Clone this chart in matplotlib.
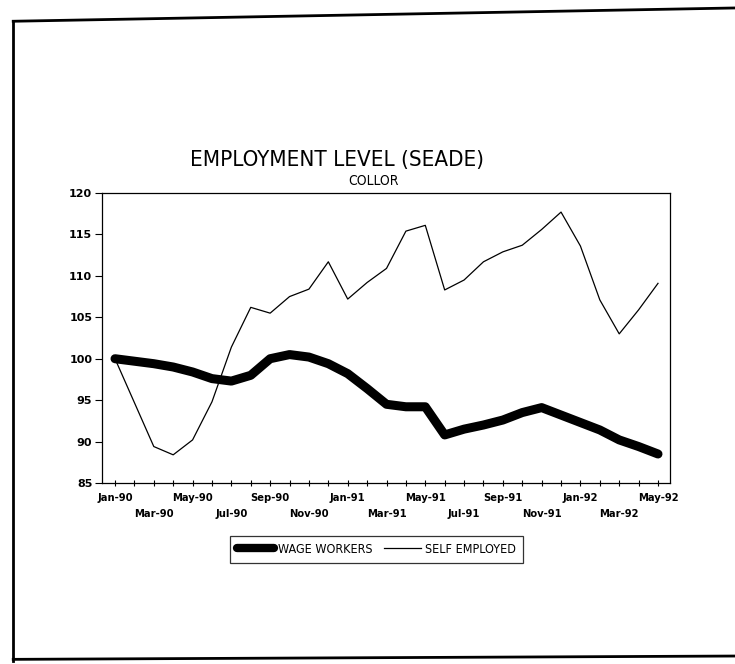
import numpy as np
import matplotlib
matplotlib.use("Agg")
import matplotlib.pyplot as plt
from matplotlib.lines import Line2D

# monthly index, Jan-90 .. May-92
months = ["Jan-90", "Feb-90", "Mar-90", "Apr-90", "May-90", "Jun-90", "Jul-90", "Aug-90",
          "Sep-90", "Oct-90", "Nov-90", "Dec-90", "Jan-91", "Feb-91", "Mar-91", "Apr-91",
          "May-91", "Jun-91", "Jul-91", "Aug-91", "Sep-91", "Oct-91", "Nov-91", "Dec-91",
          "Jan-92", "Feb-92", "Mar-92", "Apr-92", "May-92"]

wage_workers = [100.0, 99.7, 99.4, 99.0, 98.4, 97.6, 97.3, 98.0, 100.0, 100.5, 100.2, 99.4,
                98.2, 96.4, 94.5, 94.2, 94.2, 90.8, 91.5, 92.0, 92.6, 93.5, 94.1, 93.2,
                92.3, 91.4, 90.2, 89.4, 88.5]
self_employed = [100.0, 94.7, 89.4, 88.4, 90.2, 94.8, 101.4, 106.2, 105.5, 107.5, 108.4, 111.7,
                 107.2, 109.2, 110.9, 115.4, 116.1, 108.3, 109.5, 111.7, 112.9, 113.7, 115.6, 117.7,
                 113.6, 107.1, 103.0, 105.9, 109.1]

yticks = [85, 90, 95, 100, 105, 110, 115, 120]

x = np.arange(len(months))

fig = plt.figure(figsize=(7.35, 6.64), dpi=100)
ax = fig.add_axes([0.1388, 0.2726, 0.7728, 0.4367])

ax.plot(x, wage_workers, color="black", lw=6.5, solid_capstyle="round", solid_joinstyle="round")
ax.plot(x, self_employed, color="black", lw=0.9)

ax.set_xlim(-0.67, 28.62)
ax.set_ylim(85, 120)
ax.set_yticks(yticks)
ax.set_yticklabels([str(v) for v in yticks], fontsize=8, fontweight="bold")
ax.tick_params(axis="y", direction="out", length=5, width=0.8, pad=2)

ax.set_xticks(x)
ax.set_xticklabels([])
ax.tick_params(axis="x", direction="inout", length=5, width=0.8)
# two rows of month labels, every second month
for i in range(0, len(months), 2):
    row = 0 if i % 4 == 0 else 1
    ax.text(i, -0.033 - row * 0.055, months[i], transform=ax.get_xaxis_transform(),
            ha="center", va="top", fontsize=8, fontweight="bold", stretch="condensed")

for s in ax.spines.values():
    s.set_linewidth(0.9)

fig.text(0.458, 0.759, "EMPLOYMENT LEVEL (SEADE)", ha="center", va="center",
         fontsize=16, family="DejaVu Sans", stretch="condensed", fontweight="light")
fig.text(0.508, 0.727, "COLLOR", ha="center", va="center",
         fontsize=10, family="DejaVu Sans", stretch="condensed")

handles = [Line2D([], [], color="black", lw=6, solid_capstyle="round"),
           Line2D([], [], color="black", lw=0.9)]
leg = fig.legend(handles, ["WAGE WORKERS", "SELF EMPLOYED"], loc="center",
                 bbox_to_anchor=(0.512, 0.173), ncol=2, frameon=True, fancybox=False,
                 edgecolor="black", handlelength=3.0, handletextpad=0.3,
                 columnspacing=0.9, borderpad=0.55, borderaxespad=0,
                 prop={"family": "DejaVu Sans", "stretch": "condensed", "size": 9})
leg.get_frame().set_linewidth(0.9)

# outer frame of the scanned page
fig.add_artist(Line2D([0.018, 0.018], [0.005, 0.968], color="black", lw=2, transform=fig.transFigure))
fig.add_artist(Line2D([0.018, 1.0], [0.968, 0.988], color="black", lw=2, transform=fig.transFigure))
fig.add_artist(Line2D([0.018, 1.0], [0.007, 0.012], color="black", lw=2, transform=fig.transFigure))

fig.savefig("out.png", dpi=100)
